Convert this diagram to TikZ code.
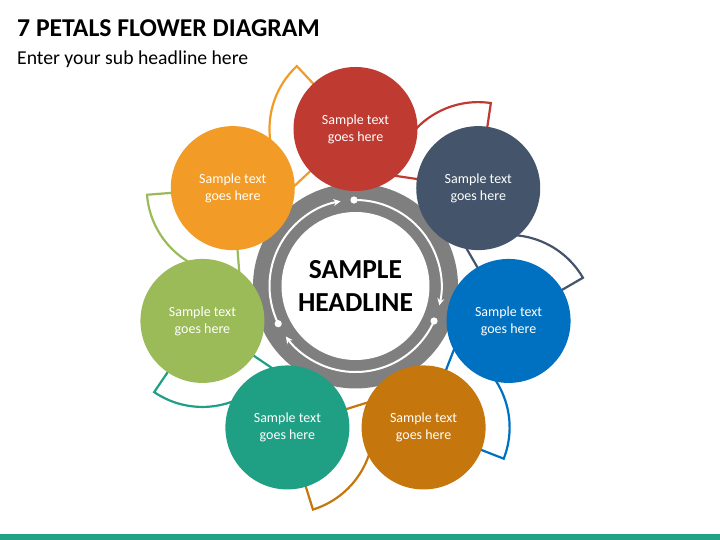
\documentclass[tikz,border=0pt]{standalone}
\usepackage{fontspec}
\setmainfont{Carlito}
\usetikzlibrary{shapes,arrows.meta}
\definecolor{petalRed}{HTML}{BF3A30}
\definecolor{petalNavy}{HTML}{44546A}
\definecolor{petalBlue}{HTML}{0070C0}
\definecolor{petalBrown}{HTML}{C5760C}
\definecolor{petalTeal}{HTML}{1FA085}
\definecolor{petalGreen}{HTML}{9BBB59}
\definecolor{petalOrange}{HTML}{F29C27}
\definecolor{hubGray}{HTML}{7F7F7F}
\definecolor{barTeal}{HTML}{21A185}
\tikzstyle{petal} = [circle, minimum size=124bp, inner sep=0pt, align=center, text=white, font=\fontsize{14bp}{17bp}\selectfont]
\tikzstyle{leaf} = [line width=2.2bp, line join=miter]
\tikzstyle{cyclearrow} = [white, line width=2bp, -{Stealth[length=7bp,width=7bp]}]

\begin{document}
\begin{tikzpicture}[x=1bp,y=1bp]

        \useasboundingbox (-355.5,-254) rectangle (364.5,286);

        % Headlines
        \node[anchor=base west, inner sep=0pt, font=\fontsize{25.7bp}{30bp}\selectfont\bfseries] (title) at (-338.5,249.3) {7 PETALS FLOWER DIAGRAM};
        \node[anchor=base west, inner sep=0pt, font=\fontsize{19.7bp}{24bp}\selectfont] (subtitle) at (-338.5,221) {Enter your sub headline here};

        % Bottom bar
        \fill[barTeal] (-355.5,-254) rectangle (364.5,-248);

        % Central hub
        \fill[hubGray] (0,0) circle (102.5);
        \fill[white] (0,0) circle (74);
        \node[align=center, font=\fontsize{27.5bp}{33bp}\selectfont\bfseries] (hub) at (0,0) {SAMPLE\\HEADLINE};

        % Arrows running round the hub
        \fill[white] (91:86) circle (3.6);
        \draw[cyclearrow] (91:86) arc[start angle=91, end angle=-13, radius=86];	% top -> right
        \fill[white] (-24:86) circle (3.6);
        \draw[cyclearrow] (-24:86) arc[start angle=-24, end angle=-144, radius=86];	% right -> left
        \fill[white] (206:86) circle (3.6);
        \draw[cyclearrow] (206:86) arc[start angle=206, end angle=100, radius=86];	% left -> top

        % Petal centres
        \coordinate (cRed) at (90:157);
        \coordinate (cNavy) at (38.57:157);
        \coordinate (cBlue) at (-12.86:157);
        \coordinate (cBrown) at (-64.29:157);
        \coordinate (cTeal) at (-115.71:157);
        \coordinate (cGreen) at (-167.14:157);
        \coordinate (cOrange) at (141.43:157);

        % Leaf outlines, each one sits behind the next petal
        \draw[leaf, petalRed] (cNavy) -- ++(81.57:86) arc[start angle=81.57, end angle=171.57, radius=86] -- cycle;
        \draw[leaf, petalNavy] (cBlue) -- ++(30.14:86) arc[start angle=30.14, end angle=120.14, radius=86] -- cycle;
        \draw[leaf, petalBlue] (cBrown) -- ++(-21.29:86) arc[start angle=-21.29, end angle=68.71, radius=86] -- cycle;
        \draw[leaf, petalBrown] (cTeal) -- ++(-72.71:86) arc[start angle=-72.71, end angle=17.29, radius=86] -- cycle;
        \draw[leaf, petalTeal] (cGreen) -- ++(-124.14:86) arc[start angle=-124.14, end angle=-34.14, radius=86] -- cycle;
        \draw[leaf, petalGreen] (cOrange) -- ++(184.43:86) arc[start angle=184.43, end angle=274.43, radius=86] -- cycle;
        \draw[leaf, petalOrange] (cRed) -- ++(133:86) arc[start angle=133, end angle=223, radius=86] -- cycle;

        % Petals
        \node[petal, fill=petalRed] (red) at (cRed) {Sample text\\goes here};
        \node[petal, fill=petalNavy] (navy) at (cNavy) {Sample text\\goes here};
        \node[petal, fill=petalBlue] (blue) at (cBlue) {Sample text\\goes here};
        \node[petal, fill=petalBrown] (brown) at (cBrown) {Sample text\\goes here};
        \node[petal, fill=petalTeal] (teal) at (cTeal) {Sample text\\goes here};
        \node[petal, fill=petalGreen] (green) at (cGreen) {Sample text\\goes here};
        \node[petal, fill=petalOrange] (orange) at (cOrange) {Sample text\\goes here};

    \end{tikzpicture}
\end{document}
